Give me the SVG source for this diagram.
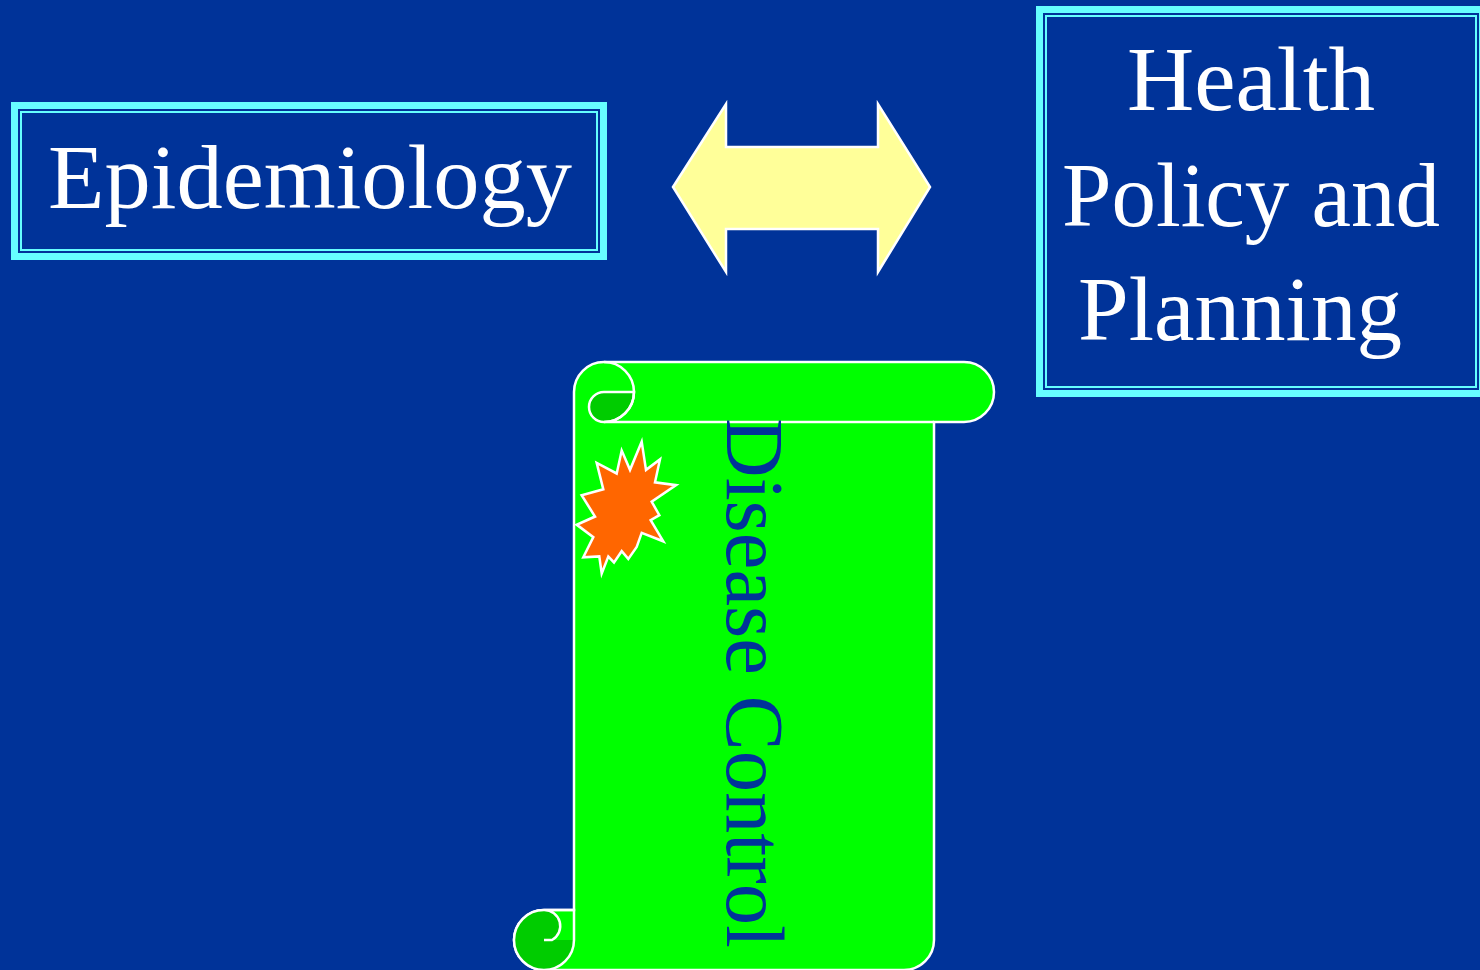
<svg xmlns="http://www.w3.org/2000/svg" width="1480" height="970" viewBox="0 0 1480 970">
<style>
.lbl{font-family:"Liberation Serif","Times New Roman",serif;font-size:92px;fill:#FFFFFF}
.edge{stroke:#FFFFFF;stroke-width:2.5;stroke-linejoin:miter}
.ln{fill:none;stroke:#FFFFFF;stroke-width:2.5}
</style>
<rect x="0" y="0" width="1480" height="970" fill="#003399"/>

<g id="epidemiology">
<rect x="11" y="102" width="596" height="158" fill="#66FFFF"/>
<rect x="18" y="109" width="582" height="144" fill="#003399"/>
<rect x="21" y="112" width="576" height="138" fill="none" stroke="#66FFFF" stroke-width="2"/>
<text class="lbl" x="48" y="208" textLength="524" lengthAdjust="spacingAndGlyphs">Epidemiology</text>
</g>

<g id="health-policy">
<rect x="1036" y="6" width="450" height="391" fill="#66FFFF"/>
<rect x="1043" y="13" width="436" height="377" fill="#003399"/>
<rect x="1046" y="16" width="430" height="371" fill="none" stroke="#66FFFF" stroke-width="2"/>
<text class="lbl" x="1127" y="110" textLength="248" lengthAdjust="spacingAndGlyphs">Health</text>
<text class="lbl" x="1062" y="226" textLength="378" lengthAdjust="spacingAndGlyphs">Policy and</text>
<text class="lbl" x="1078" y="340" textLength="324" lengthAdjust="spacingAndGlyphs">Planning</text>
</g>

<g id="connectors">
<polygon class="edge" fill="#FFFF99" points="673,187 726,104 726,147 878,147 878,104 930,187 878,272 878,229 726,229 726,272"/>
</g>

<g id="disease-control">
<path class="edge" fill="#00FF00" d="M 574 392 A 30 30 0 0 1 604 362 L 964 362 A 30 30 0 0 1 964 422 L 934 422 L 934 940 A 30 30 0 0 1 904 970 L 544 970 A 30 30 0 0 1 514 940 A 30 30 0 0 1 544 910 L 574 910 Z"/>
<path d="M 604 392 L 634 392 A 30 30 0 0 1 604 422 A 15 15 0 0 1 604 392 Z" fill="#00CC00" class="edge"/>
<path class="ln" d="M 604 362 A 30 30 0 0 1 604 422 L 934 422"/>
<path d="M 544 910 A 30 30 0 1 0 574 940 L 552 940 A 16 16 0 0 0 544 910 Z" fill="#00CC00"/>
<path class="ln" d="M 544 910 A 30 30 0 1 0 574 940"/>
<path class="ln" d="M 544 940 L 552 940 A 16 16 0 0 0 544 910 L 574 910 L 574 940"/>
<polygon class="edge" fill="#FF6600" transform="translate(0,-26.5) scale(1,1.06)" points="641.7,441.7 646,468.3 660,458.3 655,480 676,482.7 651.7,498.3 659.3,511 650.7,515.7 663.3,535.7 641.7,527.7 636.7,541 628.3,552.3 621.7,545 614,555.7 608.3,550 601.7,566 599.3,550 583.3,550.7 593.3,531.7 576.7,520 595,512.3 581.7,492.3 603.3,486.7 596.7,461.7 616.7,471.7 621.7,450 630,468.3"/>
<text transform="translate(727,418) rotate(90)" x="0" y="0" font-family="Liberation Serif, Times New Roman, serif" font-size="82" fill="#003399" textLength="530" lengthAdjust="spacingAndGlyphs">Disease Control</text>
</g>
</svg>
